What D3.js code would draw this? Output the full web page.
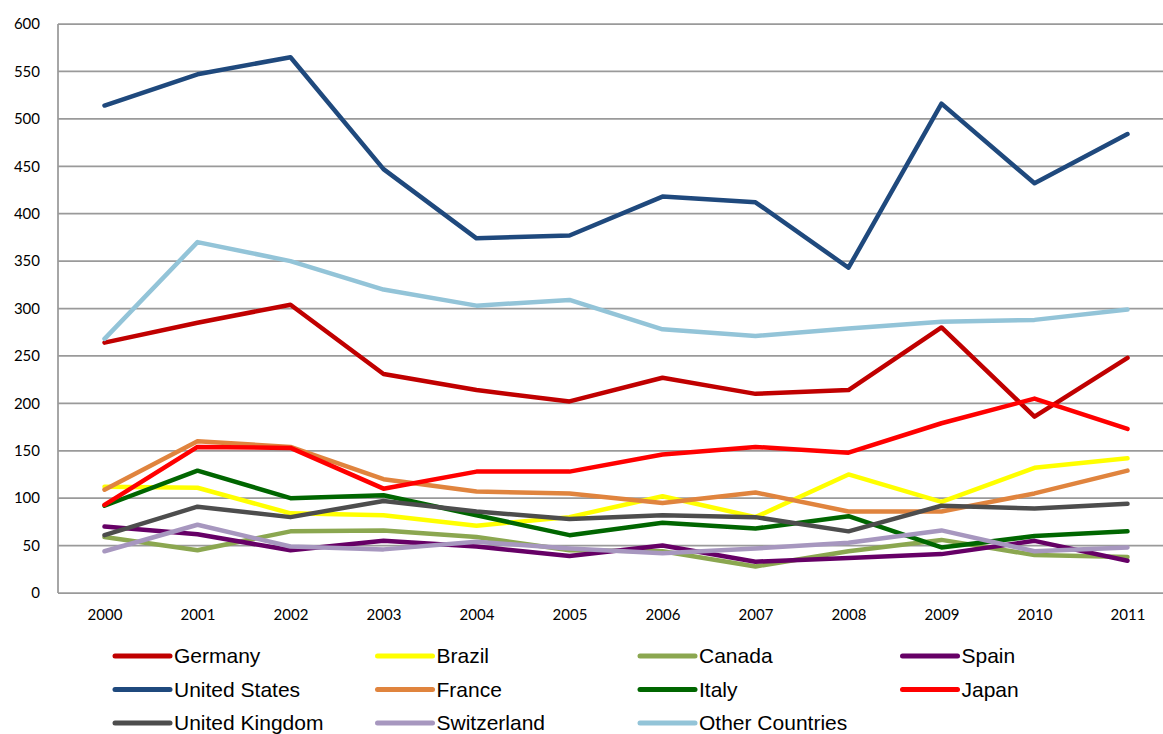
<!DOCTYPE html>
<html>
<head>
<meta charset="utf-8">
<script src="https://cdn.jsdelivr.net/npm/d3@7"></script>
<style>
  html, body { margin: 0; padding: 0; background: #fff; }
  svg { display: block; }
</style>
</head>
<body>
<svg id="chart" width="1163" height="734"></svg>
<script>
// Years on the category axis
const years = ["2000","2001","2002","2003","2004","2005","2006","2007","2008","2009","2010","2011"];
const yTicks = [0, 50, 100, 150, 200, 250, 300, 350, 400, 450, 500, 550, 600];

// Values per country, one per year
const germany      = [264, 285, 304, 231, 214, 202, 227, 210, 214, 280, 186, 248];
const brazil       = [112, 111,  84,  82,  71,  80, 102,  80, 125,  96, 132, 142];
const canada       = [ 59,  45,  65,  66,  59,  45,  44,  28,  44,  56,  40,  38];
const spain        = [ 70,  62,  45,  55,  49,  39,  50,  33,  37,  41,  55,  34];
const unitedStates = [514, 547, 565, 447, 374, 377, 418, 412, 343, 516, 432, 484];
const france       = [109, 160, 154, 120, 107, 105,  95, 106,  86,  86, 105, 129];
const italy        = [ 92, 129, 100, 103,  82,  61,  74,  68,  81,  48,  60,  65];
const japan        = [ 93, 154, 153, 110, 128, 128, 146, 154, 148, 179, 205, 173];
const unitedKingdom= [ 61,  91,  80,  97,  86,  78,  82,  80,  65,  92,  89,  94];
const switzerland  = [ 44,  72,  49,  46,  54,  47,  42,  47,  53,  66,  44,  48];
const otherCountries=[268, 370, 350, 320, 303, 309, 278, 271, 279, 286, 288, 299];

const series = [
  { name: "Germany",         values: germany,        color: "#C00000" },
  { name: "Brazil",          values: brazil,         color: "#FFFF00" },
  { name: "Canada",          values: canada,         color: "#8BA750" },
  { name: "Spain",           values: spain,          color: "#660066" },
  { name: "United States",   values: unitedStates,   color: "#1F497D" },
  { name: "France",          values: france,         color: "#E0843E" },
  { name: "Italy",           values: italy,          color: "#006600" },
  { name: "Japan",           values: japan,          color: "#FF0000" },
  { name: "United Kingdom",  values: unitedKingdom,  color: "#4D4D4D" },
  { name: "Switzerland",     values: switzerland,    color: "#A797BF" },
  { name: "Other Countries", values: otherCountries, color: "#93C4D8" }
];

const svg = d3.select("#chart");
const plotLeft = 58, plotTop = 24, plotBottom = 593, step = 93;

const x = d3.scalePoint()
  .domain(years)
  .range([plotLeft, plotLeft + step * years.length])
  .padding(0.5);

const y = d3.scaleLinear()
  .domain([0, 600])
  .range([plotBottom, plotTop]);

// Horizontal gridlines
svg.append("g")
  .selectAll("line")
  .data(yTicks)
  .join("line")
  .attr("x1", plotLeft)
  .attr("x2", 1163)
  .attr("y1", d => y(d))
  .attr("y2", d => y(d))
  .attr("stroke", "#9a9a9a")
  .attr("stroke-width", 1.75);

// Vertical axis line
svg.append("line")
  .attr("x1", plotLeft).attr("x2", plotLeft)
  .attr("y1", y(600)).attr("y2", y(0))
  .attr("stroke", "#9a9a9a")
  .attr("stroke-width", 1.75);

// Y tick labels
const yAxis = d3.axisLeft(y).tickValues(yTicks).tickSize(0).tickPadding(18);
const gy = svg.append("g").attr("transform", `translate(${plotLeft},0)`).call(yAxis);
gy.select(".domain").remove();
gy.selectAll("text")
  .attr("font-family", "Lato, 'Open Sans', sans-serif")
  .attr("font-size", 15)
  .attr("fill", "#000");

// X tick labels
const xAxis = d3.axisBottom(x).tickSize(0).tickPadding(16);
const gx = svg.append("g").attr("transform", `translate(0,${plotBottom})`).call(xAxis);
gx.select(".domain").remove();
gx.selectAll("text")
  .attr("font-family", "Lato, 'Open Sans', sans-serif")
  .attr("font-size", 15)
  .attr("fill", "#000");

// Series lines
const line = d3.line()
  .x((d, i) => x(years[i]))
  .y(d => y(d));

svg.append("g")
  .selectAll("path")
  .data(series)
  .join("path")
  .attr("d", d => line(d.values))
  .attr("fill", "none")
  .attr("stroke", d => d.color)
  .attr("stroke-width", 4.5)
  .attr("stroke-linejoin", "round")
  .attr("stroke-linecap", "round");

// Legend: four columns, filled row by row
const legend = svg.append("g")
  .attr("font-family", "'Liberation Sans', Arial, sans-serif")
  .attr("font-size", 21);

const colX = [115, 377.5, 640, 902.5];
const rowY = [656, 689.5, 723];

const items = legend.selectAll("g")
  .data(series)
  .join("g")
  .attr("transform", (d, i) => `translate(${colX[i % 4]},${rowY[Math.floor(i / 4)]})`);

items.append("line")
  .attr("x1", 0).attr("x2", 55)
  .attr("y1", 0).attr("y2", 0)
  .attr("stroke", d => d.color)
  .attr("stroke-width", 5)
  .attr("stroke-linecap", "round");

items.append("text")
  .attr("x", 59)
  .attr("dy", "0.35em")
  .attr("fill", "#000")
  .text(d => d.name);
</script>
</body>
</html>
